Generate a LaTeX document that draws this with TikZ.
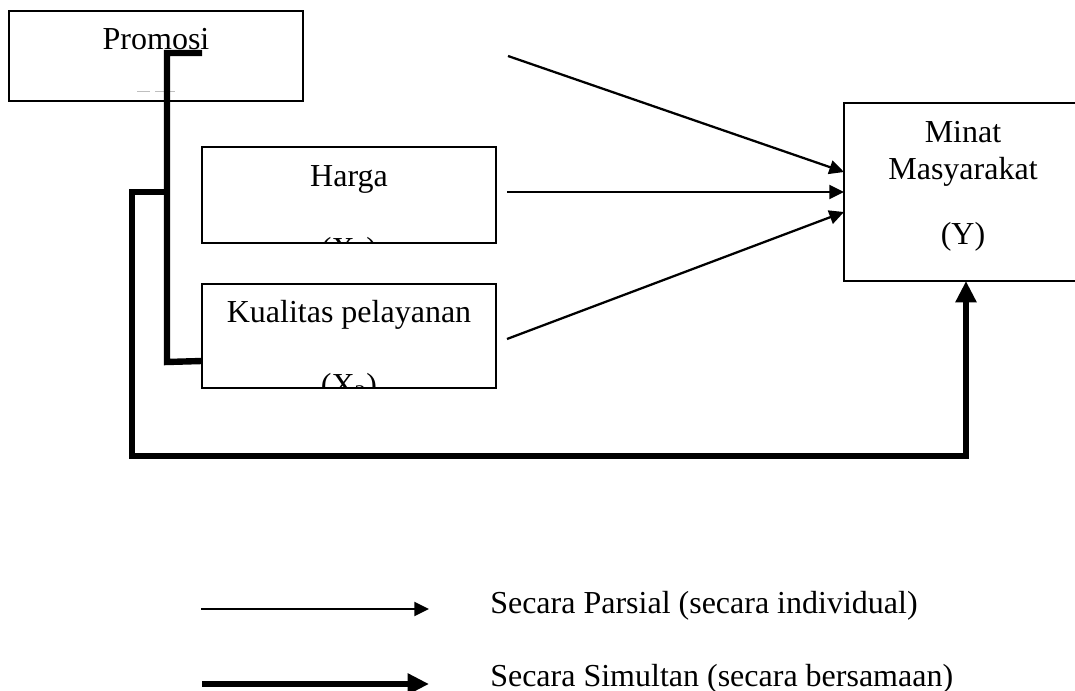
\documentclass[tikz,border=0pt]{standalone}
\usepackage{fontspec}
\setmainfont{Liberation Serif}
\usetikzlibrary{arrows.meta}
\begin{document}
\begin{tikzpicture}[x=0.75pt,y=-0.75pt,
  box/.style={draw,line width=1.1pt,rectangle,inner sep=0pt},
  lbl/.style={anchor=base,inner sep=0pt,font=\fontsize{24}{28}\selectfont},
  thin/.style={line width=1.7pt,-{Triangle[length=11pt,width=10.5pt]}},
  thick/.style={line width=4.8pt},
  thickarr/.style={line width=4.8pt,-{Triangle[length=16pt,width=15pt]}},
  faint/.style={draw=black!25,line width=0.6pt}]
\useasboundingbox (0,0) rectangle (1075,691);
% boxes
\node[box,minimum width=220.5pt,minimum height=67.5pt] (promosi) at (156,56) {};
\node[box,minimum width=220.5pt,minimum height=72pt] (harga) at (349,195) {};
\node[box,minimum width=220.5pt,minimum height=78pt] (kual) at (349,336) {};
\node[box,minimum width=178.5pt,minimum height=133.5pt] (minat) at (963,192) {};
% texts
\node[lbl] (tp) at (156,50) {Promosi};
\node[lbl] (th) at (349,187) {Harga};
\node[lbl] (tk) at (349,323) {Kualitas pelayanan};
\node[lbl] (tm1) at (963,143) {Minat};
\node[lbl] (tm2) at (963,180) {Masyarakat};
\node[lbl] (tm3) at (963,245) {(Y)};
\begin{scope}
\clip (harga.south west) rectangle (harga.north east);
\node[lbl] (tx1) at (349,260) {(X\textsubscript{1})};
\end{scope}
\begin{scope}
\clip (kual.south west) rectangle (kual.north east);
\node[lbl] (tx2) at (349,396) {(X\textsubscript{2})};
\end{scope}
% faint remnants in Promosi box
\coordinate (f1) at (137,91);
\coordinate (f2) at (150,91);
\coordinate (f3) at (155,91);
\coordinate (f4) at (175,91);
\draw[faint] (f1) -- (f2);
\draw[faint] (f3) -- (f4);
% thin arrows
\coordinate (a1) at (508,56);
\coordinate (a2) at (507,192);
\coordinate (a3) at (507,339);
\coordinate (e1) at (844,172);
\coordinate (e2) at (844,192);
\coordinate (e3) at (844,212);
\draw[thin] (a1) -- (e1);
\draw[thin] (a2) -- (e2);
\draw[thin] (a3) -- (e3);
% thick brackets
\coordinate (p1) at (202,53);
\coordinate (p2) at (167,53);
\coordinate (p3) at (167,362);
\coordinate (k1) at (202,361);
\coordinate (q1) at (167,192);
\coordinate (q2) at (132,192);
\coordinate (q3) at (132,456);
\coordinate (q4) at (966,456);
\coordinate (m1) at (966,281);
\draw[thick,line join=miter] (p1) -- (p2) -- (p3) -- (k1);
\draw[thickarr,line join=miter] (q1) -- (q2) -- (q3) -- (q4) -- (m1);
% legend
\coordinate (l1a) at (201,609);
\coordinate (l1b) at (429,609);
\coordinate (l2a) at (202,684);
\coordinate (l2b) at (429,684);
\draw[thin] (l1a) -- (l1b);
\draw[thickarr] (l2a) -- (l2b);
\node[lbl,anchor=base west] (leg1) at (490,613) {Secara Parsial (secara individual)};
\node[lbl,anchor=base west] (leg2) at (490,686) {Secara Simultan (secara bersamaan)};
\end{tikzpicture}
\end{document}
